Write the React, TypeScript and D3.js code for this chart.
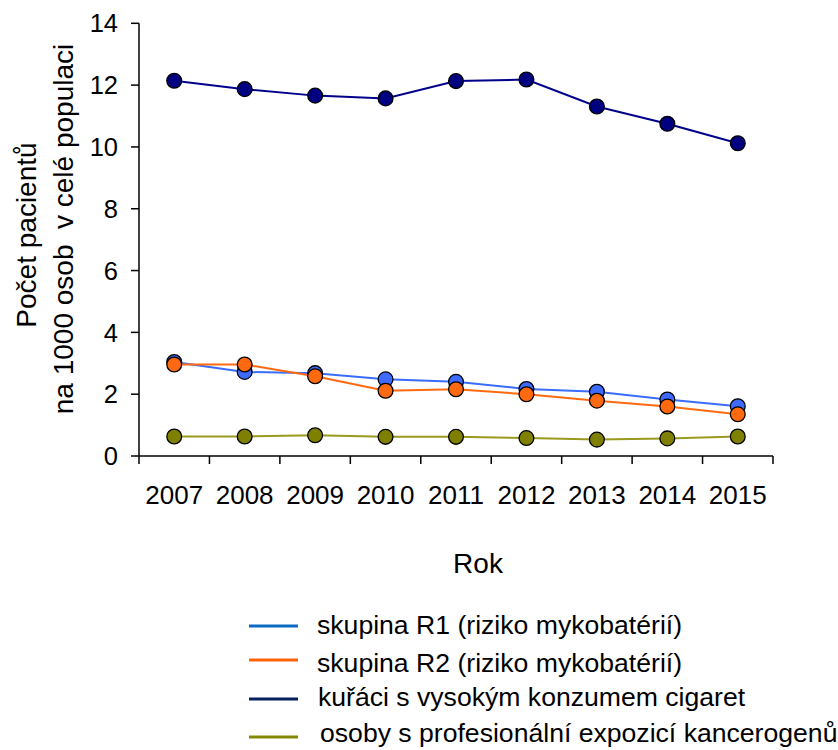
import React from "react";
import * as d3 from "d3";

const years = ["2007", "2008", "2009", "2010", "2011", "2012", "2013", "2014", "2015"];
const r1Values = [3.04, 2.72, 2.68, 2.48, 2.4, 2.17, 2.08, 1.83, 1.61];
const r2Values = [2.96, 2.96, 2.58, 2.11, 2.16, 2.0, 1.79, 1.6, 1.35];
const smokerValues = [12.14, 11.87, 11.66, 11.57, 12.13, 12.18, 11.31, 10.75, 10.12];
const occupationalValues = [0.63, 0.63, 0.67, 0.62, 0.62, 0.58, 0.53, 0.57, 0.63];
const yTicks = [0, 2, 4, 6, 8, 10, 12, 14];

const seriesList = [
  { name: "skupina R1 (riziko mykobatérií)", values: r1Values, line: "#3a6dff", marker: "#3d6bff", legend: "#0a6ac4" },
  { name: "skupina R2 (riziko mykobatérií)", values: r2Values, line: "#ff6a10", marker: "#ff6a10", legend: "#ff6308" },
  { name: "kuřáci s vysokým konzumem cigaret", values: smokerValues, line: "#00008a", marker: "#000080", legend: "#06205e" },
  { name: "osoby s profesionální expozicí kancerogenů", values: occupationalValues, line: "#9a9a20", marker: "#808000", legend: "#858900" },
];

const legendLineY = [626, 660, 699, 737];
const legendTextY = [634, 672, 706, 742];
const legendTextX = [317, 317, 318, 320];

export default function App() {
  const font = "'Liberation Sans', Arial, sans-serif";
  const x = d3.scaleBand<string>().domain(years).range([139, 773]);
  const y = d3.scaleLinear().domain([0, 14]).range([456, 23.3]);
  const cx = (yr: string) => (x(yr) as number) + x.bandwidth() / 2;
  const line = d3
    .line<number>()
    .x((_, i) => cx(years[i]))
    .y((v) => y(v));

  const xEdges = [...years.map((yr) => x(yr) as number), 773];

  return (
    <svg
      width={838}
      height={750}
      style={{ position: "absolute", left: 0, top: 0, background: "#fff" }}
      fontFamily={font}
    >
      <rect width={838} height={750} fill="#fff" />
      {/* y axis */}
      <line x1={139} x2={139} y1={y(14)} y2={y(0)} stroke="#000" strokeWidth={1.5} />
      {yTicks.map((t) => (
        <g key={t}>
          <line x1={131} x2={139} y1={y(t)} y2={y(t)} stroke="#000" strokeWidth={1.5} />
          <text x={118} y={y(t)} dy="0.36em" textAnchor="end" fontSize={25.5} fill="#000">
            {t}
          </text>
        </g>
      ))}
      {/* x axis */}
      <line x1={139} x2={773} y1={y(0)} y2={y(0)} stroke="#000" strokeWidth={1.5} />
      {xEdges.map((e, i) => (
        <line key={i} x1={e} x2={e} y1={y(0)} y2={y(0) + 8} stroke="#000" strokeWidth={1.5} />
      ))}
      {years.map((yr) => (
        <text key={yr} x={cx(yr)} y={504} textAnchor="middle" fontSize={26} fill="#000">
          {yr}
        </text>
      ))}
      <text x={478} y={573} textAnchor="middle" fontSize={28} fill="#000">
        Rok
      </text>
      {/* y title */}
      <text transform="translate(36,235) rotate(-90)" textAnchor="middle" fontSize={28} fill="#000">
        Počet pacientů
      </text>
      <text transform="translate(72.5,229) rotate(-90)" textAnchor="middle" fontSize={28} fill="#000" style={{ whiteSpace: "pre" }}>
        {"na 1000 osob  v celé populaci"}
      </text>
      {/* series */}
      {seriesList.map((s) => (
        <g key={s.name}>
          <path d={line(s.values) as string} fill="none" stroke={s.line} strokeWidth={2} />
          {s.values.map((v, i) => (
            <circle key={i} cx={cx(years[i])} cy={y(v)} r={7.4} fill={s.marker} stroke="#000" strokeWidth={1.3} />
          ))}
        </g>
      ))}
      {/* legend */}
      {seriesList.map((s, i) => (
        <g key={s.name}>
          <line x1={249} x2={298} y1={legendLineY[i]} y2={legendLineY[i]} stroke={s.legend} strokeWidth={3} />
          <text x={legendTextX[i]} y={legendTextY[i]} fontSize={26.6} fill="#000">
            {s.name}
          </text>
        </g>
      ))}
    </svg>
  );
}
